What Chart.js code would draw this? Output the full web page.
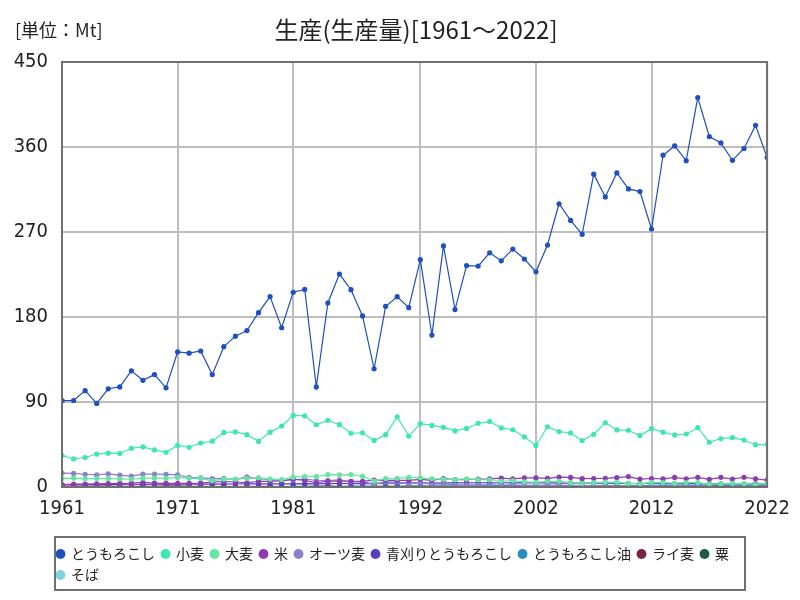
<!DOCTYPE html>
<html lang="ja">
<head>
<meta charset="UTF-8">
<title>生産(生産量)</title>
<script src="https://cdn.jsdelivr.net/npm/chart.js"></script>
<style>
  body { margin: 0; background: #fff; font-family: "Liberation Sans Narrow", "Noto Sans CJK JP", sans-serif; }
  .wrap { position: relative; width: 800px; height: 600px; }
  .unit { position: absolute; left: 15px; top: 16px; font-size: 18px; color: #222; }
  .title { position: absolute; left: 0; top: 11px; width: 832px; text-align: center; font-size: 24px; color: #222; }
  canvas { position: absolute; left: 0; top: 0; }
</style>
</head>
<body>
<div class="wrap">
  <canvas id="chart" width="800" height="600"></canvas>
  <div class="unit">[単位：Mt]</div>
  <div class="title">生産(生産量)[1961～2022]</div>
</div>
<script>
// 年 (1961〜2022)
const years = [1961,1962,1963,1964,1965,1966,1967,1968,1969,1970,
  1971,1972,1973,1974,1975,1976,1977,1978,1979,1980,
  1981,1982,1983,1984,1985,1986,1987,1988,1989,1990,
  1991,1992,1993,1994,1995,1996,1997,1998,1999,2000,
  2001,2002,2003,2004,2005,2006,2007,2008,2009,2010,
  2011,2012,2013,2014,2015,2016,2017,2018,2019,2020,
  2021,2022];
const tickYears = [1961, 1971, 1981, 1992, 2002, 2012, 2022];
const yTicks = [0, 90, 180, 270, 360, 450];

// 生産量 (Mt)
const corn = [91.4,91.6,102,88.5,104,106,123,113,119,105,
  143,141.7,144,119,148.6,159.7,165.6,184.6,201.6,168.6,
  206.2,209.2,106,194.9,225.5,208.9,181.1,125.2,191.3,201.5,
  189.9,240.7,160.9,255.3,187.9,234.5,233.9,247.9,239.5,251.9,
  241.4,227.8,256.2,299.9,282.3,267.5,331.2,307.1,332.5,315.6,
  312.8,273.2,351.3,361.1,345.5,412.3,371.1,364.3,345.9,358.4,
  382.9,348.8];
const wheat = [33.5,29.7,31.2,34.9,35.8,35.5,41,42.4,39.3,36.8,
  44,42.1,46.6,48.5,57.8,58.3,55.4,48.3,58.1,64.6,
  75.8,75.3,65.9,70.6,66,56.9,57.4,49.3,55.4,74.3,
  53.9,67.1,65.2,63.2,59.4,62,67.5,69.3,62.6,60.6,
  53,44,63.8,58.7,57.2,49.2,55.8,68,60.4,60.1,
  54.4,61.8,58.1,55.1,56.1,62.8,47.4,51.3,52.3,49.7,
  44.8,44.9];
const barley = [8.9,9.4,8.8,8.9,8.9,8.6,8.2,9.3,9.3,9.1,
  10.1,9.2,9.1,6.6,8.3,8.3,9,9.9,8.3,7.9,
  10.4,11.2,11.1,13,12.9,13.2,11.4,6.3,8.8,9.2,
  10.1,9.9,8.7,8.2,7.8,8.5,7.8,7.7,6.1,6.9,
  5.4,4.9,6,6.1,4.6,3.9,4.6,5.2,4.9,3.9,
  3.4,4.8,4.7,4,4.7,4.7,3.1,3.3,3.9,3.6,
  2.6,3.8];
const rice = [2.5,3,3.2,3.3,3.5,3.9,4.1,4.8,4.2,3.8,
  3.9,3.9,4.2,5.1,5.8,5.3,4.5,6,6,6.6,
  8.4,7,4.5,6.2,6.1,6.1,5.9,7.3,7,7.1,
  7,8.1,7.1,9,7.9,7.8,8.3,8.5,9.3,8.7,
  9.7,9.6,9.1,10.5,10.1,8.8,9,9.2,10,11,
  8.4,9,8.6,10.1,8.7,10.2,8.1,10.2,8.4,10.3,
  8.7,7.3];
const oats = [14.7,14.4,13.5,12.8,13.9,12.5,11.5,13.7,13.7,13.3,
  12.8,10.1,9.6,8.8,9.1,7.9,10.8,8.8,7.7,6.6,
  7.4,8.6,6.9,6.9,7.5,5.6,5.4,3.1,5.4,5.2,
  3.5,4.3,3.1,3.3,2.3,2.2,2.4,2.4,2.1,2.2,
  1.7,1.7,2,1.7,1.7,1.4,1.3,1.3,1.4,1.2,
  0.8,0.9,1,1,1.3,0.9,0.7,0.8,0.8,1,
  0.6,0.8];
const greenCorn = [2.4,2.5,2.6,2.5,2.7,2.8,2.9,2.8,2.9,2.8,
  2.9,3,3.1,3,3.1,3.2,3.3,3.3,3.4,3.3,
  3.4,3.5,3.3,3.6,3.7,3.6,3.8,3.5,4,4.1,
  4.2,4.3,4.2,4.4,4.3,4.4,4.5,4.4,4.5,4.4,
  4.3,4.4,4.3,4.2,4.1,4.2,4.1,4,3.9,3.8,
  3.7,3.8,3.6,3.5,3.6,3.5,3.4,3.3,3.4,3.2,
  3.3,3.2];
const cornOil = [0.25,0.26,0.27,0.28,0.29,0.3,0.31,0.32,0.33,0.34,
  0.36,0.37,0.38,0.39,0.4,0.42,0.45,0.48,0.52,0.55,
  0.6,0.65,0.7,0.75,0.8,0.85,0.9,0.95,1,1.05,
  1.1,1.15,1.2,1.25,1.3,1.3,1.35,1.4,1.4,1.45,
  1.45,1.4,1.35,1.3,1.3,1.25,1.3,1.35,1.4,1.5,
  1.55,1.6,1.65,1.7,1.75,1.8,1.8,1.8,1.75,1.7,
  1.75,1.7];
const rye = [0.68,1,0.74,0.83,0.84,0.72,0.6,0.6,0.77,0.93,
  1.25,0.75,0.68,0.47,0.4,0.41,0.43,0.61,0.6,0.42,
  0.46,0.51,0.69,0.84,0.52,0.48,0.5,0.35,0.36,0.26,
  0.25,0.3,0.26,0.29,0.26,0.23,0.22,0.32,0.28,0.22,
  0.18,0.17,0.21,0.21,0.19,0.18,0.16,0.2,0.18,0.18,
  0.18,0.2,0.21,0.23,0.3,0.33,0.3,0.27,0.3,0.35,
  0.27,0.32];
const millet = [0.2,0.2,0.2,0.2,0.2,0.2,0.2,0.2,0.2,0.2,
  0.2,0.2,0.2,0.2,0.2,0.2,0.2,0.2,0.2,0.2,
  0.2,0.2,0.2,0.2,0.2,0.2,0.2,0.2,0.2,0.2,
  0.2,0.2,0.2,0.2,0.2,0.2,0.2,0.2,0.2,0.3,
  0.3,0.2,0.3,0.3,0.2,0.2,0.3,0.4,0.3,0.4,
  0.2,0.3,0.4,0.4,0.4,0.4,0.4,0.3,0.3,0.3,
  0.3,0.3];
const buckwheat = [0.03,0.03,0.03,0.03,0.03,0.03,0.03,0.03,0.03,0.03,
  0.03,0.03,0.03,0.03,0.03,0.03,0.03,0.03,0.03,0.03,
  0.03,0.03,0.03,0.03,0.03,0.03,0.03,0.03,0.03,0.03,
  0.03,0.03,0.03,0.03,0.03,0.03,0.03,0.03,0.03,0.03,
  0.03,0.03,0.03,0.03,0.03,0.03,0.03,0.03,0.03,0.03,
  0.03,0.03,0.03,0.03,0.03,0.03,0.03,0.03,0.03,0.03,
  0.03,0.03];

const seriesNames = ["とうもろこし","小麦","大麦","米","オーツ麦","青刈りとうもろこし","とうもろこし油","ライ麦","粟","そば"];
const seriesData = [corn, wheat, barley, rice, oats, greenCorn, cornOil, rye, millet, buckwheat];
const seriesColors = ["#1e50c0","#3ee6b4","#62e6a0","#8c3cb0","#8a80cc","#5a3cc0","#2a8cc0","#7a2444","#1f5a48","#80d4e0"];

const datasets = seriesNames.map((name, k) => ({
  label: name,
  data: seriesData[k].map((v, i) => ({ x: years[i], y: v })),
  borderColor: seriesColors[k],
  backgroundColor: seriesColors[k],
  borderWidth: 1.2,
  pointRadius: 2.6,
  pointBorderWidth: 0,
  pointHoverRadius: 3,
  fill: false,
  tension: 0
}));

// 枠線 (プロット領域と凡例)
const framePlugin = {
  id: "frame",
  afterDraw(chart) {
    const ctx = chart.ctx;
    const a = chart.chartArea;
    ctx.save();
    ctx.strokeStyle = "#707070";
    ctx.lineWidth = 2;
    ctx.strokeRect(a.left, a.top, a.right - a.left, a.bottom - a.top);
    const lg = chart.legend;
    ctx.strokeRect(lg.left + 5, lg.top - 3, lg.right - lg.left - 33, lg.bottom - lg.top + 1);
    ctx.restore();
  }
};

const tickFont = { family: "'Liberation Sans Narrow', 'DejaVu Sans Condensed', sans-serif", size: 20 };

new Chart(document.getElementById("chart"), {
  type: "line",
  data: { datasets: datasets },
  options: {
    responsive: false,
    animation: false,
    layout: { padding: { left: 50, right: 27, top: 62, bottom: 8 } },
    plugins: {
      title: { display: false },
      tooltip: { enabled: false },
      legend: {
        position: "bottom",
        align: "start",
        labels: {
          usePointStyle: true,
          pointStyle: "circle",
          boxWidth: 7,
          boxHeight: 7,
          padding: 7,
          color: "#222",
          font: { family: "'Noto Sans CJK JP', sans-serif", size: 14 }
        }
      }
    },
    scales: {
      x: {
        type: "linear",
        min: 1961,
        max: 2022,
        afterBuildTicks: s => { s.ticks = tickYears.map(v => ({ value: v })); },
        afterFit: s => { s.height = 53; },
        grid: { color: "#bdbdbd", lineWidth: 2, drawTicks: false },
        border: { display: false },
        ticks: { color: "#222", font: tickFont, padding: 10, autoSkip: false, maxRotation: 0,
          callback: v => String(v) }
      },
      y: {
        min: 0,
        max: 450,
        afterBuildTicks: s => { s.ticks = yTicks.map(v => ({ value: v })); },
        // 軸幅を狭くしてもラベルを切り取らない
        afterFit: s => { s.width = 12; s._computeLabelArea = () => undefined; },
        grid: { color: "#bdbdbd", lineWidth: 2, drawTicks: false },
        border: { display: false },
        ticks: { color: "#222", font: tickFont, padding: 14 }
      }
    }
  },
  plugins: [framePlugin]
});
</script>
</body>
</html>
